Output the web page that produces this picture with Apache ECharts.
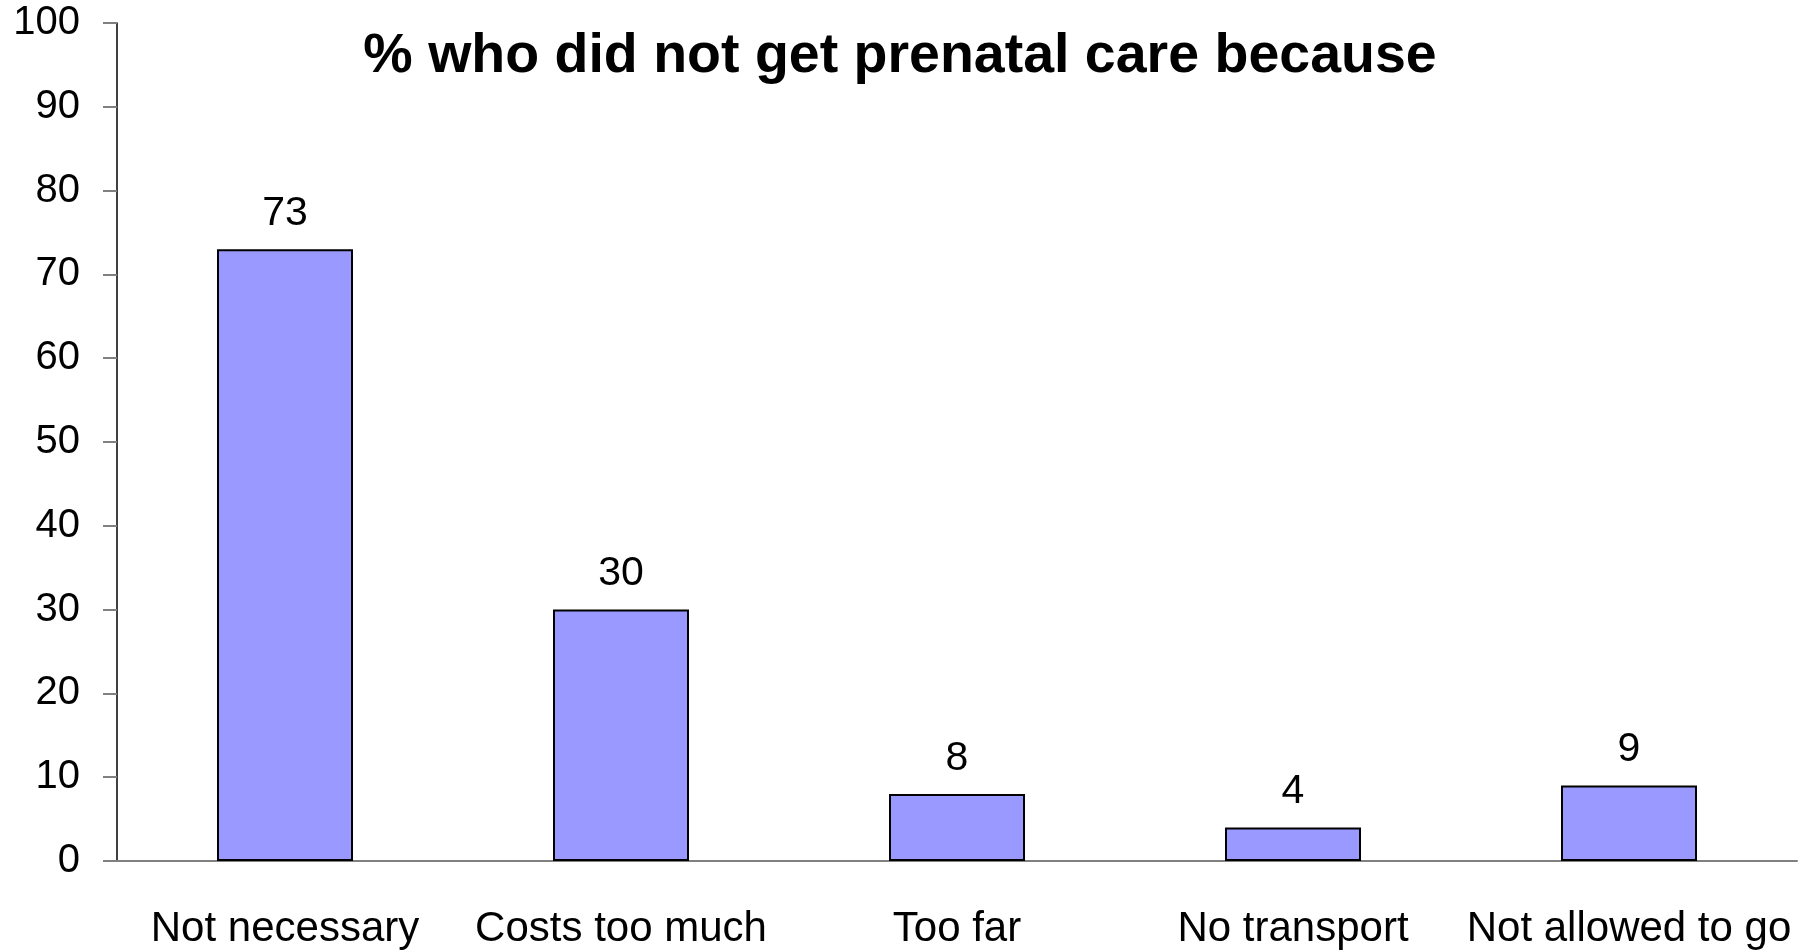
<!DOCTYPE html>
<html>
<head>
<meta charset="utf-8">
<style>
	html, body { margin: 0; padding: 0; background: #fff; }
	#chart { width: 1806px; height: 950px; }
</style>
<script src="https://cdn.jsdelivr.net/npm/echarts@6/dist/echarts.min.js"></script>
</head>
<body>
<div id="chart"></div>
<script>
	// data
	var chartTitle = '% who did not get prenatal care because';
	var categories = ['Not necessary', 'Costs too much', 'Too far', 'No transport', 'Not allowed to go'];
	var percents = [73, 30, 8, 4, 9];
	var yTicks = [0, 10, 20, 30, 40, 50, 60, 70, 80, 90, 100];

	var chart = echarts.init(document.getElementById('chart'));
	var option = {
		animation: false,
		title: {
			text: chartTitle,
			left: 895,
			top: 24,
			textAlign: 'center',
			textStyle: {
				fontFamily: 'Liberation Sans, Arial, sans-serif',
				fontSize: 55.5,
				fontWeight: 'bold',
				color: '#000'
			}
		},
		grid: {
			left: 117,
			right: 9,
			top: 23,
			bottom: 88
		},
		xAxis: {
			type: 'category',
			data: categories,
			axisLine: {
				lineStyle: { color: '#808080', width: 2 }
			},
			axisTick: {
				length: 15,
				lineStyle: { color: '#808080', width: 2 }
			},
			axisLabel: {
				margin: 47,
				fontFamily: 'Liberation Sans, Arial, sans-serif',
				fontSize: 42,
				color: '#000',
				interval: 0
			}
		},
		yAxis: {
			type: 'value',
			min: yTicks[0],
			max: yTicks[yTicks.length - 1],
			interval: 10,
			splitLine: { show: false },
			axisLine: {
				show: true,
				lineStyle: { color: '#000', width: 1.5 }
			},
			axisTick: {
				show: true,
				length: 14,
				lineStyle: { color: '#808080', width: 2 }
			},
			axisLabel: {
				margin: 37,
				fontFamily: 'Liberation Sans, Arial, sans-serif',
				fontSize: 40,
				color: '#000'
			}
		},
		series: [{
			type: 'bar',
			data: percents,
			barWidth: 136,
			itemStyle: {
				color: '#9999FF',
				borderColor: '#000',
				borderWidth: 2
			},
			label: {
				show: true,
				position: 'top',
				distance: 15,
				fontFamily: 'Liberation Sans, Arial, sans-serif',
				fontSize: 41,
				color: '#000'
			}
		}]
	};
	chart.setOption(option);
</script>
</body>
</html>
